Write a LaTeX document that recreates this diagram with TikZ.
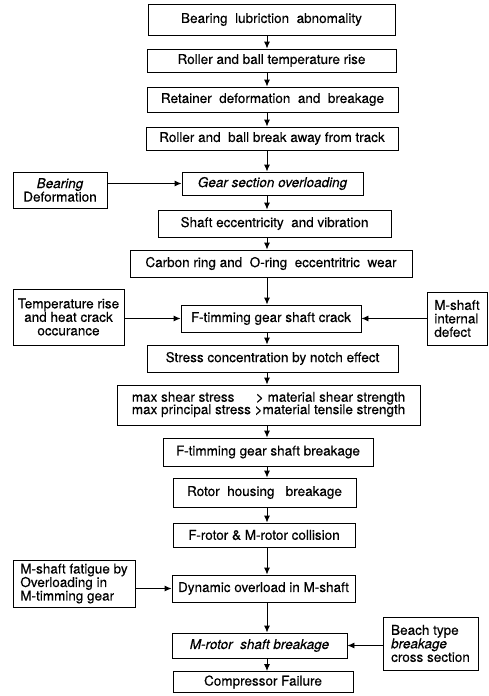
\documentclass[tikz,border=0pt]{standalone}
\usepackage{fontspec}
\setmainfont{TeX Gyre Heros}[FakeBold=0.4]
\usepackage{tikz}
\usetikzlibrary{arrows,arrows.meta,positioning,calc}
\tikzstyle{exterior} = [rectangle,draw=black,line width=0.9pt,inner sep=2pt]
\tikzstyle{evento}=[exterior,align=center,font=\fontsize{13.5}{13.5}\selectfont]
\tikzstyle{causa}=[exterior,font=\fontsize{13.5}{13.5}\selectfont]
\tikzstyle{flecha}=[->,line width=0.9pt]

\begin{document}
\begin{tikzpicture}[x=1pt,y=1pt,>={Latex[length=7pt,width=6pt]}]
	\useasboundingbox (0,0) rectangle (488,-696);
	\coordinate (eje) at (267,0);
	% main chain
	\node[evento,minimum width=247,minimum height=31] (lub) at (271.5,-19.5) {Bearing\ \ lubriction\ \ abnomality};
	\node[evento,minimum width=249,minimum height=23] (temp) at (271.5,-60.5) {Roller and ball temperature rise};
	\node[evento,minimum width=251,minimum height=25] (ret) at (272.5,-99.5) {Retainer\ \ deformation\ \ and\ \ breakage};
	\node[evento,minimum width=252,minimum height=23] (track) at (272,-138.5) {Roller and\ \ ball break away from track};
	\node[evento,minimum width=181,minimum height=23] (gear) at (272.5,-183.5) {\itshape Gear section overloading};
	\node[evento,minimum width=233,minimum height=27] (ecc) at (274.5,-223.5) {Shaft eccentricity\ \ and vibration};
	\node[evento,minimum width=282,minimum height=27] (ring) at (271,-263.5) {Carbon ring and\ \ O-ring\ \ eccentritric\ \ wear};
	\node[evento,minimum width=180,minimum height=27] (crack) at (271,-318.5) {F-timming gear shaft crack};
	\node[evento,minimum width=251,minimum height=27] (notch) at (272.5,-358.5) {Stress concentration by notch effect};
	\node[evento,minimum width=303,minimum height=40,inner sep=0pt] (shear) at (268.5,-405) {%
		\begin{tabular}{@{}l@{}r@{}}
			max shear stress & > material shear strength\\[-1.5pt]
			max principal stress & \ >material tensile strength
		\end{tabular}};
	\node[evento,minimum width=210,minimum height=28] (fbreak) at (268,-452) {F-timming gear shaft breakage};
	\node[evento,minimum width=183,minimum height=29] (hous) at (264.5,-492.5) {Rotor\ \ housing\ \ \ breakage};
	\node[evento,minimum width=182,minimum height=24] (coll) at (264,-535) {F-rotor \& M-rotor collision};
	\node[evento,minimum width=183,minimum height=27] (dyn) at (263.5,-588.5) {Dynamic overload in M-shaft};
	\node[evento,minimum width=175,minimum height=25] (mbreak) at (259.5,-645.5) {\itshape M-rotor\ \ shaft breakage};
	\node[evento,minimum width=180,minimum height=21] (fail) at (263,-682) {Compressor Failure};
	% side causes
	\node[causa,align=center,minimum width=94,minimum height=36] (deform) at (60,-190) {\itshape Bearing\\\upshape Deformation};
	\node[causa,align=center,minimum width=111,minimum height=56] (heat) at (68.5,-317) {Temperature rise\\and heat crack\\occurance};
	\node[causa,align=left,minimum width=60,minimum height=53] (defect) at (457,-318.5) {M-shaft\\internal\\defect};
	\node[causa,align=left,minimum width=122,minimum height=47] (fatig) at (74,-583.5) {M-shaft fatigue by\\Overloading in\\M-timming gear};
	\node[causa,align=left,minimum width=95,minimum height=53] (beach) at (430.5,-643.5) {Beach type\\{\itshape breakage}\\cross section};
	% connectors
	\foreach \a/\b in {lub/temp,temp/ret,ret/track,track/gear,gear/ecc,ecc/ring,ring/crack,crack/notch,notch/shear,shear/fbreak,fbreak/hous,hous/coll,coll/dyn,dyn/mbreak,mbreak/fail}
		\draw[flecha] (\a.south -| eje) -- (\b.north -| eje);
	\draw[flecha] (deform.east |- gear) -- (gear.west);
	\draw[flecha] (heat.east |- crack) -- (crack.west);
	\draw[flecha] (defect.west |- crack) -- (crack.east);
	\draw[flecha] (fatig.east |- dyn) -- (dyn.west);
	\draw[flecha] (beach.west |- mbreak) -- (mbreak.east);
\end{tikzpicture}
\end{document}
